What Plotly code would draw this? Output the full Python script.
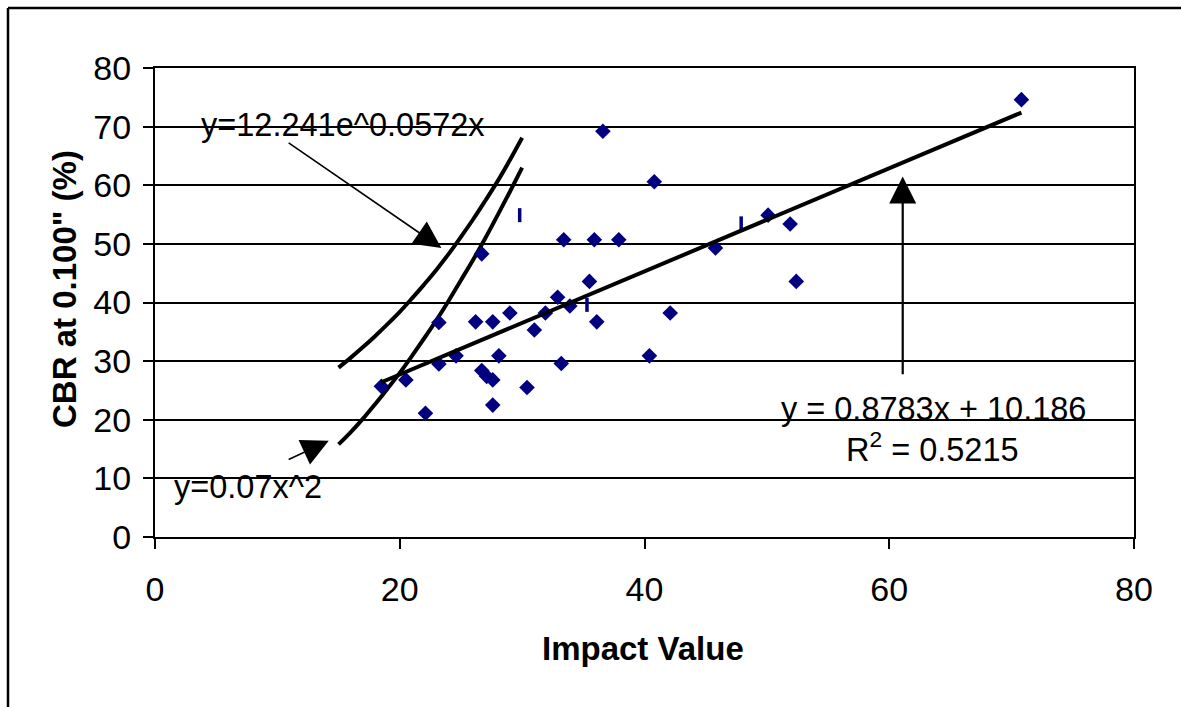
import plotly.graph_objects as go

# measured CBR points (diamond markers)
impact = [40.8, 33.4, 35.9, 37.9, 26.7, 35.5, 32.9, 33.9, 29.0, 31.9,
          23.2, 26.2, 27.6, 36.1, 31.0, 24.6, 28.1, 40.4, 23.2, 33.2,
          26.7, 27.1, 27.6, 20.5, 18.5, 30.4, 27.6, 22.1, 36.6, 50.1,
          51.9, 45.8, 52.4, 42.1, 70.8]
cbr = [60.6, 50.7, 50.7, 50.7, 48.3, 43.6, 40.9, 39.4, 38.2, 38.2,
       36.6, 36.7, 36.7, 36.7, 35.3, 30.9, 30.9, 30.9, 29.5, 29.6,
       28.4, 27.4, 26.8, 26.8, 25.7, 25.5, 22.5, 21.1, 69.2, 54.9,
       53.4, 49.3, 43.6, 38.2, 74.6]

# points drawn as thin dashes
impact_dash = [29.8, 35.3, 47.9]
cbr_dash = [54.9, 39.6, 53.5]

# linear trendline ends
trend_x = [18.5, 70.8]
trend_y = [26.4, 72.4]

# hand-added curves
curve_x = [15, 16, 17, 18, 19, 20, 21, 22, 23, 24, 25, 26, 27, 28, 29, 30]
exp_y = [28.9, 30.6, 32.4, 34.3, 36.3, 38.4, 40.7, 43.1, 45.6, 48.3,
         51.2, 54.2, 57.4, 60.7, 64.3, 68.1]
quad_y = [15.8, 17.9, 20.2, 22.7, 25.3, 28.0, 30.9, 33.9, 37.0, 40.3,
          43.8, 47.3, 51.0, 54.9, 58.9, 63.0]

x_ticks = [0, 20, 40, 60, 80]
y_ticks = [0, 10, 20, 30, 40, 50, 60, 70, 80]

FONT = "Arial, Liberation Sans, sans-serif"
NAVY = "#000080"

# body margin is removed in post_script, so figure == window
W, H = 1181, 707
ML, MT, MR, MB = 155, 68, 47, 170
PW = W - ML - MR
PH = H - MT - MB


def px_x(px):
    # page x pixel -> paper coord
    return (px - ML) / PW


def px_y(py):
    return (H - MB - py) / PH


fig = go.Figure()
fig.add_trace(go.Scatter(x=curve_x, y=exp_y, mode="lines",
                         line=dict(color="black", width=4, shape="spline")))
fig.add_trace(go.Scatter(x=curve_x, y=quad_y, mode="lines",
                         line=dict(color="black", width=4, shape="spline")))
fig.add_trace(go.Scatter(x=impact, y=cbr, mode="markers",
                         marker=dict(symbol="diamond", size=12, color=NAVY)))
fig.add_trace(go.Scatter(x=impact_dash, y=cbr_dash, mode="markers",
                         marker=dict(symbol="line-ns", size=10,
                                     line=dict(color=NAVY, width=3.5))))
fig.add_trace(go.Scatter(x=trend_x, y=trend_y, mode="lines",
                         line=dict(color="black", width=4)))

# arrows
arrows = [
    dict(x=23.4, y=49.3, ax=10.8, ay=67.4, w=1.6),
    dict(x=14.2, y=16.4, ax=10.8, ay=13.1, w=1.6),
    dict(x=61.1, y=61.5, ax=61.1, ay=27.5, w=2.2),
]
for a in arrows:
    fig.add_annotation(x=a["x"], y=a["y"], ax=a["ax"], ay=a["ay"],
                       xref="x", yref="y", axref="x", ayref="y", text="",
                       showarrow=True, arrowhead=2, arrowcolor="black",
                       arrowwidth=a["w"], arrowsize=27 / 5 / a["w"])

labels = [
    ("y=12.241e^0.0572x", 15.4, 70.2),
    ("y=0.07x^2", 7.6, 8.6),
    ("y = 0.8783x + 10.186", 63.6, 21.9),
    ("R<sup>2</sup> = 0.5215", 63.5, 15.3),
]
for txt, lx, ly in labels:
    fig.add_annotation(x=lx, y=ly, xref="x", yref="y", text=txt,
                       showarrow=False, xanchor="center", yanchor="middle",
                       font=dict(family=FONT, size=32.5, color="black"))

fig.add_annotation(x=px_x(643), y=px_y(648), xref="paper", yref="paper",
                   xanchor="center", yanchor="middle",
                   text="<b>Impact Value</b>", showarrow=False,
                   font=dict(family=FONT, size=33, color="black"))
fig.add_annotation(x=px_x(64), y=px_y(289), xref="paper", yref="paper",
                   xanchor="center", yanchor="middle",
                   text="<b>CBR at 0.100\" (%)</b>", showarrow=False, textangle=-90,
                   font=dict(family=FONT, size=33, color="black"))

# outer chart frame: only top and left edges fall inside the picture
fig.add_shape(type="line", xref="paper", yref="paper",
              x0=px_x(8), x1=1.3, y0=px_y(8), y1=px_y(8),
              line=dict(color="black", width=2.5))
fig.add_shape(type="line", xref="paper", yref="paper",
              x0=px_x(8), x1=px_x(8), y0=-0.6, y1=px_y(8),
              line=dict(color="black", width=2.5))

fig.update_xaxes(range=[0, 80], tickvals=x_ticks, showgrid=False, zeroline=False,
                 showline=True, linecolor="black", linewidth=2, mirror=True,
                 ticks="outside", ticklen=10, tickwidth=2, tickcolor="black",
                 ticklabelstandoff=11,
                 tickfont=dict(family=FONT, size=34, color="black"))
fig.update_yaxes(range=[0, 80], tickvals=y_ticks, showgrid=True, gridcolor="black",
                 gridwidth=2, zeroline=False,
                 showline=True, linecolor="black", linewidth=2, mirror=True,
                 ticks="outside", ticklen=10, tickwidth=2, tickcolor="black",
                 ticklabelstandoff=5,
                 tickfont=dict(family=FONT, size=34, color="black"))
fig.update_layout(width=W, height=H, showlegend=False,
                  margin=dict(l=ML, r=MR, t=MT, b=MB),
                  plot_bgcolor="white", paper_bgcolor="white")

fig.write_html("out.html", config=dict(displayModeBar=False),
               post_script="document.body.style.margin='0';"
                           "document.body.style.overflow='hidden';")
